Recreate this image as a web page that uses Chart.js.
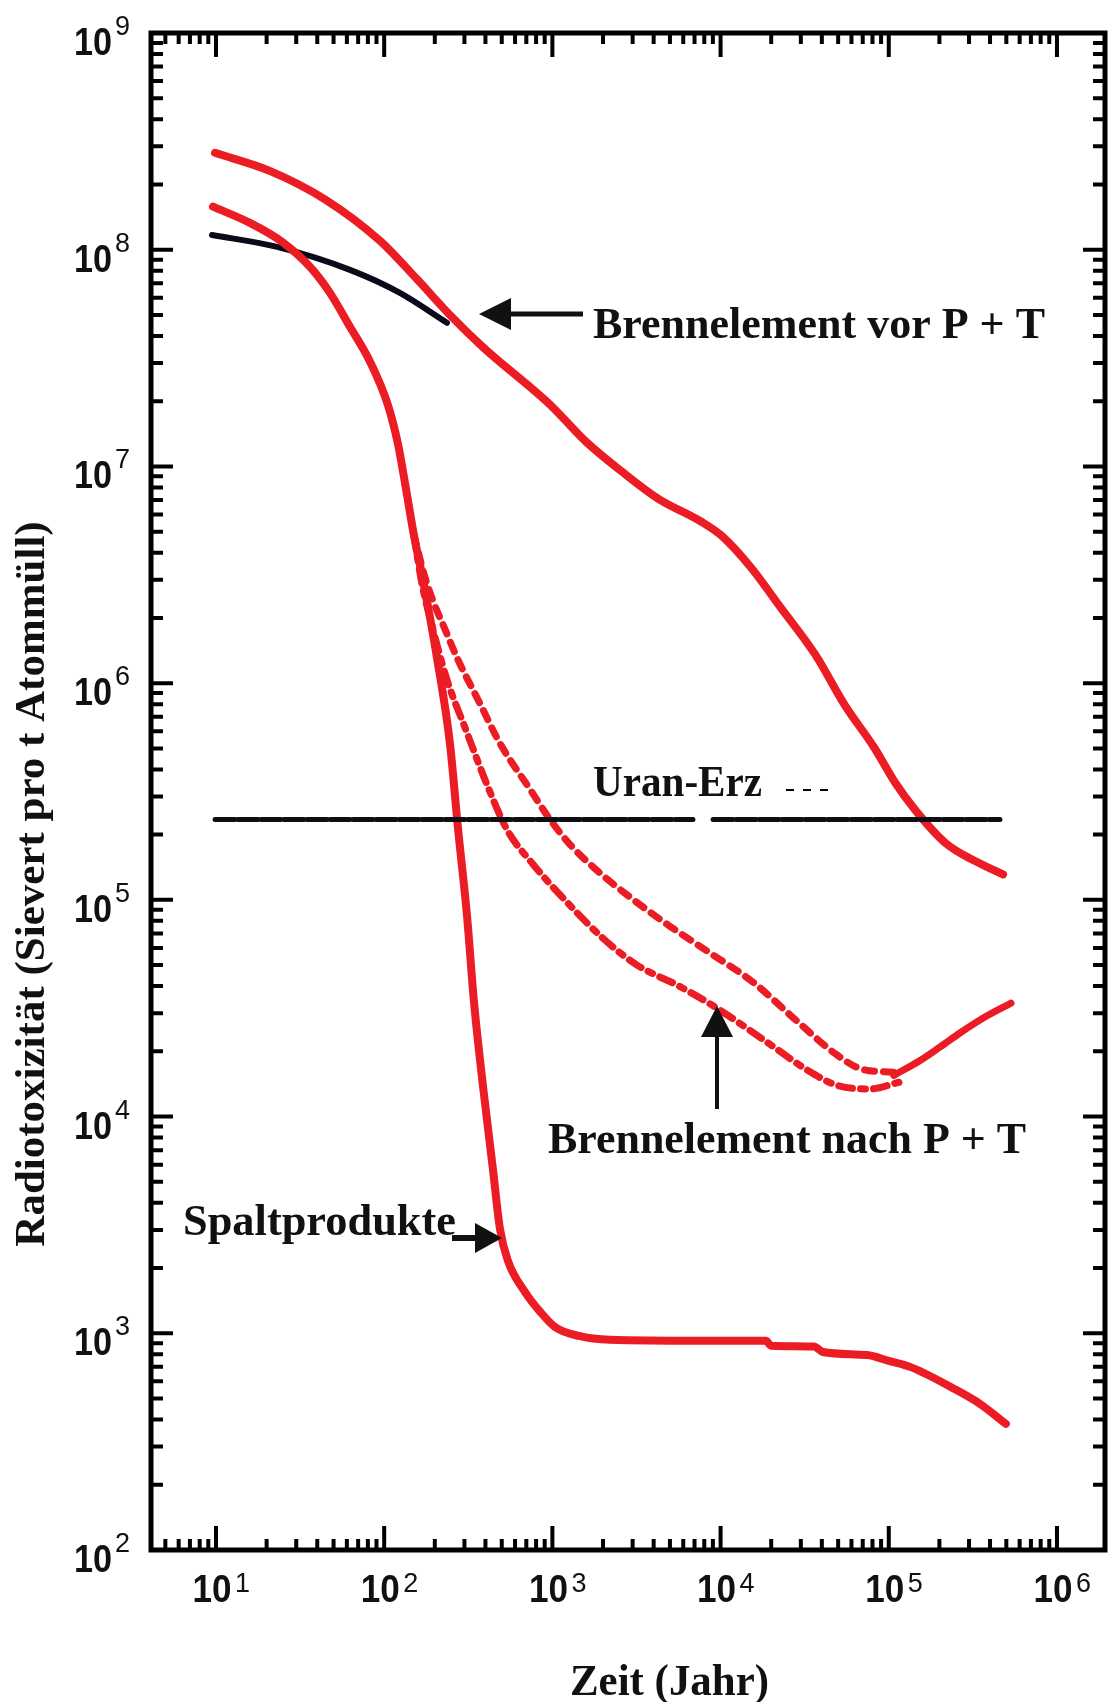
<!DOCTYPE html>
<html>
<head>
<meta charset="utf-8">
<title>Radiotoxizität</title>
<script src="https://cdn.jsdelivr.net/npm/chart.js@4.4.1/dist/chart.umd.min.js"></script>
<style>
  html, body { margin: 0; padding: 0; background: #fff; }
  #wrap { width: 1114px; height: 1702px; }
</style>
</head>
<body>
<div id="wrap"><canvas id="chart" width="1114" height="1702"></canvas></div>
<script>
// Zeit (Jahr) und Radiotoxizität (Sievert pro t)
const vorPT_t = [9.87, 21.2, 44.9, 94.4, 157, 246, 387, 968, 1585, 2594, 4246, 7640, 10300, 15200, 22500, 36900, 54900, 81700, 109000, 147000, 219000, 326000, 478000];
const vorPT_v = [2.80e8, 2.30e8, 1.70e8, 1.10e8, 7.3e7, 5.0e7, 3.55e7, 1.93e7, 1.30e7, 9.46e6, 7.11e6, 5.57e6, 4.74e6, 3.41e6, 2.26e6, 1.34e6, 7.89e5, 5.06e5, 3.48e5, 2.54e5, 1.82e5, 1.51e5, 1.31e5];

const schwarz_t = [9.47, 23.1, 62.6, 124, 236];
const schwarz_v = [1.17e8, 1.03e8, 8.07e7, 6.32e7, 4.60e7];

const spalt_t = [9.6, 15.9, 25.0, 36.2, 47.6, 62.6, 82.4, 105, 121, 135, 150, 170, 206, 246, 275, 311, 342, 386, 443, 488, 544, 688, 844, 1036, 1438, 2199, 7550, 18600, 19950, 35900, 40600, 74200, 100000, 134000, 244000, 349000, 497000];
const spalt_v = [1.58e8, 1.33e8, 1.08e8, 8.34e7, 6.32e7, 4.41e7, 3.04e7, 1.93e7, 1.26e7, 7.82e6, 4.85e6, 3.01e6, 1.31e6, 5.27e5, 2.12e5, 8.4e4, 3.37e4, 1.40e4, 5.73e3, 3.03e3, 2.16e3, 1.55e3, 1.26e3, 1.07e3, 972, 933, 923, 923, 877, 869, 820, 794, 746, 700, 555, 472, 382];

const nachPT1_t = [150, 175, 195, 230, 271, 371, 488, 736, 968, 1273, 1817, 2890, 5000, 8890, 15600, 27700, 48500, 68400, 107000];
const nachPT1_v = [4.85e6, 3.07e6, 2.40e6, 1.77e6, 1.31e6, 8.05e5, 5.27e5, 3.24e5, 2.35e5, 1.80e5, 1.38e5, 1.03e5, 7.55e4, 5.61e4, 4.17e4, 2.81e4, 1.94e4, 1.66e4, 1.60e4];

const nachPT2_t = [150, 168, 187, 236, 310, 408, 537, 767, 1222, 2028, 3185, 5660, 8890, 13200, 20800, 32700, 48500, 77300, 115000];
const nachPT2_v = [4.85e6, 2.85e6, 2.01e6, 1.04e6, 5.93e5, 3.41e5, 2.11e5, 1.46e5, 9.75e4, 6.58e4, 5.0e4, 4.0e4, 3.27e4, 2.67e4, 2.09e4, 1.64e4, 1.40e4, 1.34e4, 1.44e4];

const anstieg_t = [107000, 151000, 201000, 269000, 373000, 533000];
const anstieg_v = [1.55e4, 1.80e4, 2.09e4, 2.45e4, 2.88e4, 3.34e4];

const uran_t = [9.87, 6850, 7500, 9020, 458000];
const uran_v = [2.35e5, 2.35e5, null, 2.35e5, 2.35e5];

const xTickExp = [1, 2, 3, 4, 5, 6];
const yTickExp = [2, 3, 4, 5, 6, 7, 8, 9];

const RED = '#ec1c24';
const INK = '#111';

function toXY(t, v) {
  return t.map((ti, i) => ({ x: ti, y: v[i] }));
}

function logTicks(min, max) {
  const out = [];
  for (let e = Math.floor(Math.log10(min)); e <= Math.ceil(Math.log10(max)); e++) {
    for (let m = 1; m <= 9; m++) {
      const v = m * Math.pow(10, e);
      if (v >= min * 0.999 && v <= max * 1.001) out.push({ v: v, major: m === 1 });
    }
  }
  return out;
}

function arrow(ctx, x1, y1, x2, y2, head, half, width) {
  const a = Math.atan2(y2 - y1, x2 - x1);
  const bx = x2 - head * Math.cos(a), by = y2 - head * Math.sin(a);
  ctx.lineWidth = width;
  ctx.beginPath();
  ctx.moveTo(x1, y1);
  ctx.lineTo(bx, by);
  ctx.stroke();
  ctx.beginPath();
  ctx.moveTo(x2, y2);
  ctx.lineTo(bx + half * Math.sin(a), by - half * Math.cos(a));
  ctx.lineTo(bx - half * Math.sin(a), by + half * Math.cos(a));
  ctx.closePath();
  ctx.fill();
}

// Rahmen, Striche nach innen, Beschriftung und Pfeile
const rahmen = {
  id: 'rahmen',
  afterDatasetsDraw(chart) {
    const { ctx, chartArea: a } = chart;
    const x = chart.scales.x, y = chart.scales.y;
    ctx.save();
    ctx.strokeStyle = '#000';
    ctx.fillStyle = INK;

    ctx.lineWidth = 5;
    ctx.strokeRect(a.left, a.top, a.right - a.left, a.bottom - a.top);

    ctx.lineWidth = 4;
    logTicks(x.min, x.max).forEach(tk => {
      const px = x.getPixelForValue(tk.v);
      const len = tk.major ? 24 : 11;
      ctx.beginPath();
      ctx.moveTo(px, a.bottom); ctx.lineTo(px, a.bottom - len);
      ctx.moveTo(px, a.top); ctx.lineTo(px, a.top + len);
      ctx.stroke();
    });
    logTicks(y.min, y.max).forEach(tk => {
      const py = y.getPixelForValue(tk.v);
      const len = tk.major ? 22 : 12;
      ctx.beginPath();
      ctx.moveTo(a.left, py); ctx.lineTo(a.left + len, py);
      ctx.moveTo(a.right, py); ctx.lineTo(a.right - len, py);
      ctx.stroke();
    });

    // Zehnerpotenzen
    ctx.textBaseline = 'alphabetic';
    yTickExp.forEach(e => {
      const py = y.getPixelForValue(Math.pow(10, e));
      ctx.font = 'bold 38px "Liberation Sans", Arial, sans-serif';
      ctx.textAlign = 'right';
      ctx.fillText('10', 112, py + 22, 38);
      ctx.font = '27px "Liberation Sans", Arial, sans-serif';
      ctx.textAlign = 'left';
      ctx.fillText(String(e), 115, py + 2);
    });
    xTickExp.forEach(e => {
      const px = x.getPixelForValue(Math.pow(10, e));
      ctx.font = 'bold 38px "Liberation Sans", Arial, sans-serif';
      ctx.textAlign = 'center';
      ctx.fillText('10', px - 4, 1602, 39);
      ctx.font = '27px "Liberation Sans", Arial, sans-serif';
      ctx.textAlign = 'left';
      ctx.fillText(String(e), px + 19, 1592);
    });

    // Achsentitel
    ctx.font = 'bold 44px "Liberation Serif", "Times New Roman", serif';
    ctx.textAlign = 'left';
    ctx.fillText('Zeit (Jahr)', 570, 1695, 199);
    ctx.save();
    ctx.translate(44, 884);
    ctx.rotate(-Math.PI / 2);
    ctx.textAlign = 'center';
    ctx.font = 'bold 43px "Liberation Serif", "Times New Roman", serif';
    ctx.fillText('Radiotoxizität (Sievert pro t Atommüll)', 0, 0, 752);
    ctx.restore();

    // Beschriftungen im Diagramm
    ctx.font = 'bold 45px "Liberation Serif", "Times New Roman", serif';
    ctx.textAlign = 'left';
    ctx.fillText('Brennelement vor P + T', 593, 338, 452);
    ctx.fillText('Uran-Erz', 593, 796, 169);
    ctx.fillText('Brennelement nach P + T', 548, 1153, 478);
    ctx.fillText('Spaltprodukte', 183, 1235, 273);

    ctx.lineWidth = 2;
    ctx.setLineDash([8, 9]);
    ctx.beginPath();
    ctx.moveTo(786, 790); ctx.lineTo(836, 790);
    ctx.stroke();
    ctx.setLineDash([]);

    ctx.strokeStyle = INK;
    arrow(ctx, 583, 314, 479, 314, 32, 16, 5);
    arrow(ctx, 717, 1109, 717, 1006, 31, 16, 4);
    arrow(ctx, 452, 1238, 502, 1238, 27, 15, 6);
    ctx.restore();
  }
};

new Chart(document.getElementById('chart').getContext('2d'), {
  type: 'line',
  data: {
    datasets: [
      {
        label: 'Uran-Erz',
        data: toXY(uran_t, uran_v),
        borderColor: '#0d0d14',
        borderWidth: 5,
        borderDash: [20, 3],
        spanGaps: false
      },
      {
        label: 'Brennelement nach P + T (a)',
        data: toXY(nachPT1_t, nachPT1_v),
        borderColor: RED,
        borderWidth: 7,
        borderDash: [10, 9]
      },
      {
        label: 'Brennelement nach P + T (b)',
        data: toXY(nachPT2_t, nachPT2_v),
        borderColor: RED,
        borderWidth: 7,
        borderDash: [14, 8, 5, 8]
      },
      {
        label: 'Brennelement nach P + T',
        data: toXY(anstieg_t, anstieg_v),
        borderColor: RED,
        borderWidth: 7
      },
      {
        label: 'Spaltprodukte',
        data: toXY(spalt_t, spalt_v),
        borderColor: RED,
        borderWidth: 8
      },
      {
        label: 'Brennelement vor P + T',
        data: toXY(vorPT_t, vorPT_v),
        borderColor: RED,
        borderWidth: 8
      },
      {
        label: 'Brennelement (schwarz)',
        data: toXY(schwarz_t, schwarz_v),
        borderColor: '#0a0a1a',
        borderWidth: 6
      }
    ]
  },
  options: {
    responsive: false,
    devicePixelRatio: 1,
    animation: false,
    layout: { padding: { left: 151, top: 33, right: 9, bottom: 152 } },
    elements: {
      point: { radius: 0 },
      line: { cubicInterpolationMode: 'monotone', borderCapStyle: 'round', fill: false }
    },
    scales: {
      x: { type: 'logarithmic', min: 4.108, max: 1.93e6, display: false },
      y: { type: 'logarithmic', min: 1e2, max: 1e9, display: false }
    },
    plugins: {
      legend: { display: false },
      tooltip: { enabled: false }
    }
  },
  plugins: [rahmen]
});
</script>
</body>
</html>
